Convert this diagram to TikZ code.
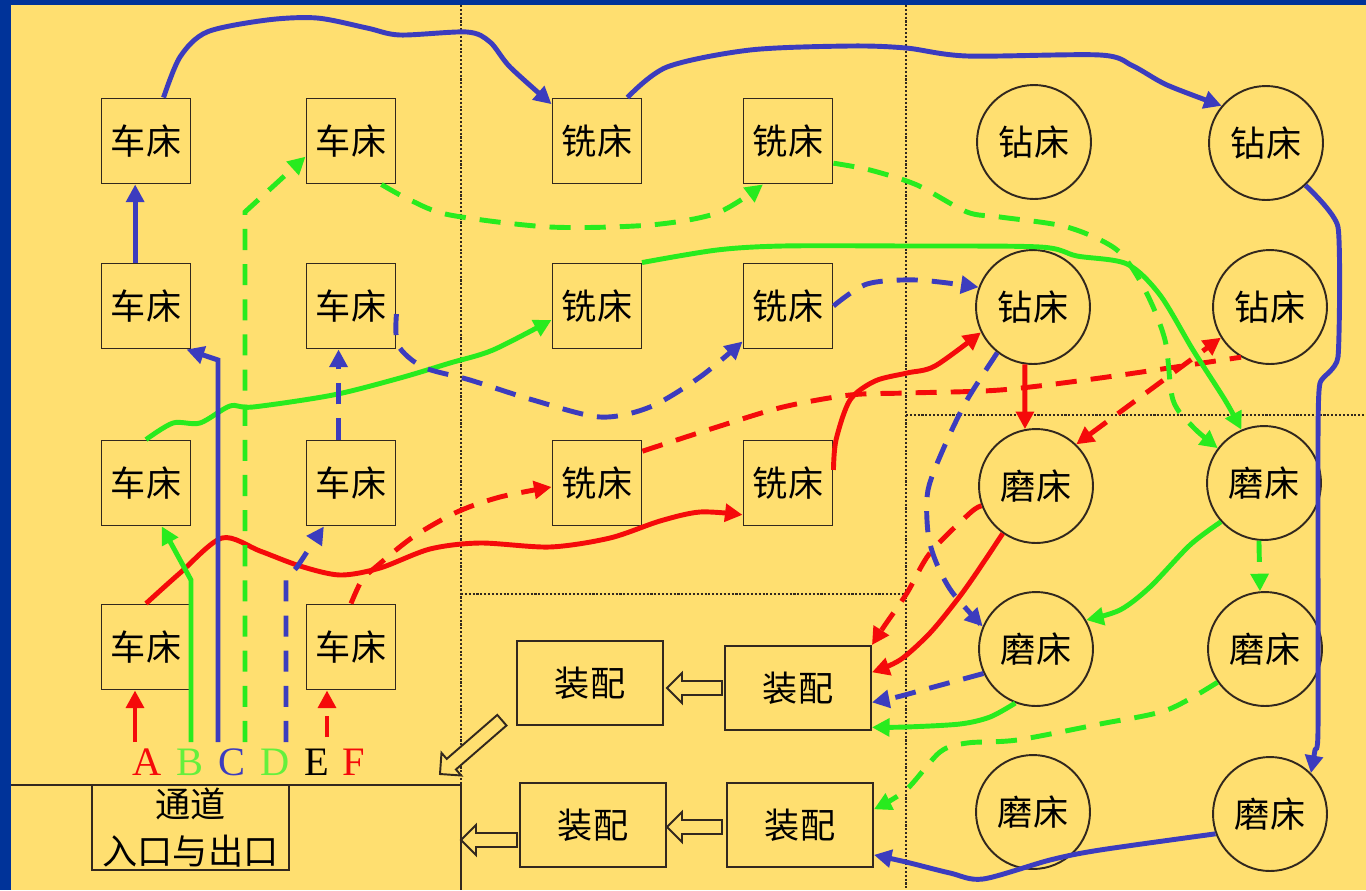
\documentclass[tikz,border=0pt]{standalone}
\usepackage{fontspec}
\setmainfont{Liberation Serif}
\newfontfamily\cjk{Noto Sans CJK SC}
\usetikzlibrary{arrows.meta}
\definecolor{bgyellow}{RGB}{255,223,112}
\definecolor{frameblue}{RGB}{0,51,153}
\definecolor{flowred}{RGB}{245,10,10}
\definecolor{flowgreen}{RGB}{40,235,30}
\definecolor{flowblue}{RGB}{60,60,190}
\definecolor{labelgreen}{RGB}{100,240,60}
\definecolor{edgedark}{RGB}{50,40,30}

\tikzset{
  machbox/.style={draw=edgedark, line width=1.1pt, minimum width=1.78cm, minimum height=1.70cm, inner sep=0pt, font=\cjk\fontsize{20}{24}\selectfont},
  machcirc/.style={machbox, circle, minimum size=2.28cm},
  asmbox/.style={machbox, minimum width=2.92cm, minimum height=1.68cm},
  flow/.style={line width=2.8pt, -{Triangle[length=10pt,width=10pt]}},
  flowdash/.style={flow, dash pattern=on 12pt off 8pt},
  zone/.style={draw=edgedark, densely dotted, line width=1.2pt},
  letter/.style={font=\fontsize{23}{26}\selectfont, anchor=base}
}

\newcommand{\hollowarrow}[4]{% pointe x, pointe y, angle, longueur
  \draw[draw=edgedark, line width=1.1pt, fill=bgyellow, shift={(#1,#2)}, rotate=#3]
    (0,0) -- (-15,15) -- (-15,7) -- (-#4,7) -- (-#4,-7) -- (-15,-7) -- (-15,-15) -- cycle;}

\begin{document}
\begin{tikzpicture}[x=0.02cm, y=-0.02cm]
    \useasboundingbox (0,0) rectangle (1366,890);
    % Fond
    \fill[frameblue] (0,0) rectangle (1366,890);
    \fill[bgyellow] (11,5) rectangle (1366,890);

    % Zones
    \draw[zone] (461,5) -- (461,785);
    \draw[zone] (906,5) -- (906,890);
    \draw[zone] (461,594) -- (906,594);
    \draw[zone] (906,415) -- (1366,415);
    \draw[edgedark, line width=1.1pt] (11,785) -- (461,785) -- (461,890);

    % Tours
    \node[machbox] (l11) at (146,141) {车床};
    \node[machbox] (l12) at (351,141) {车床};
    \node[machbox] (l21) at (146,306) {车床};
    \node[machbox] (l22) at (351,306) {车床};
    \node[machbox] (l31) at (146,483) {车床};
    \node[machbox] (l32) at (351,483) {车床};
    \node[machbox] (l41) at (146,647) {车床};
    \node[machbox] (l42) at (351,647) {车床};

    % Fraiseuses
    \node[machbox] (m11) at (597,141) {铣床};
    \node[machbox] (m12) at (788,141) {铣床};
    \node[machbox] (m21) at (597,306) {铣床};
    \node[machbox] (m22) at (788,306) {铣床};
    \node[machbox] (m31) at (597,483) {铣床};
    \node[machbox] (m32) at (788,483) {铣床};

    % Perceuses et rectifieuses
    \node[machcirc] (d11) at (1034,142) {钻床};
    \node[machcirc] (d12) at (1266,143) {钻床};
    \node[machcirc] (d21) at (1033,307) {钻床};
    \node[machcirc] (d22) at (1270,307) {钻床};
    \node[machcirc] (g11) at (1036,486) {磨床};
    \node[machcirc] (g12) at (1264,483) {磨床};
    \node[machcirc] (g21) at (1036,649) {磨床};
    \node[machcirc] (g22) at (1265,649) {磨床};
    \node[machcirc] (g31) at (1033,812) {磨床};
    \node[machcirc] (g32) at (1270,814) {磨床};

    % Montage
    \node[asmbox] (a11) at (590,683) {装配};
    \node[asmbox] (a12) at (798,688) {装配};
    \node[asmbox] (a21) at (593,825) {装配};
    \node[asmbox] (a22) at (800,825) {装配};
    \hollowarrow{667}{688}{180}{55}
    \hollowarrow{667}{827}{180}{55}
    \hollowarrow{461}{840}{180}{56}
    \hollowarrow{440}{774}{221}{82}

    % Entree
    \node[machbox, minimum width=3.94cm, align=center, font=\cjk\fontsize{20}{27}\selectfont] (entry) at (190.5,827.5) {通道\\入口与出口};
    \node[letter, text=flowred] (lblA) at (147,775) {A};
    \node[letter, text=labelgreen] (lblB) at (190,775) {B};
    \node[letter, text=flowblue] (lblC) at (232,775) {C};
    \node[letter, text=labelgreen] (lblD) at (275,775) {D};
    \node[letter, text=black] (lblE) at (317,775) {E};
    \node[letter, text=flowred] (lblF) at (354,775) {F};
    \coordinate (sA) at (135,742);
    \coordinate (sB) at (191,742);
    \coordinate (sC) at (218,742);
    \coordinate (sD) at (245,742);
    \coordinate (sE) at (286,742);
    \coordinate (sF) at (327,737);

    % Gamme A
    \draw[flow, flowred] (sA) -- (sA |- l41.south);
    \draw[flow, flowred] plot[smooth] coordinates {(l41.north) (180,573) (222,538) (260,551) (300,566) (340,575) (380,568) (430,549) (480,543) (550,547) (610,538) (660,521) (700,512) (m32.215)};
    \draw[flow, flowred] plot[smooth] coordinates {(m32.16) (836,440) (850,400) (875,381) (907,373) (935,366) (d21.206)};
    \draw[flow, flowred] (d21.262) -- (g11.101);
    \draw[flow, flowred] plot[smooth] coordinates {(g11.235) (975,575) (957,600) (930,633) (900,660) (a12.12)};

    % Gamme F
    \draw[flowdash, flowred] (sF) -- (sF |- l42.south);
    \draw[flowdash, flowred] plot[smooth] coordinates {(l42.north) (362,580) (377,566) (413,537) (457,512) (500,497) (m31.185)};
    \draw[flowdash, flowred, -] plot[smooth] coordinates {(m31.35) (717,427) (783,407) (850,395) (906,393) (1000,390) (1100,378) (d22.240)};
    \draw[flowdash, flowred, {Triangle[length=10pt,width=10pt]}-{Triangle[length=10pt,width=10pt]}] (g11.46) -- (d22.212);
    \draw[flowdash, flowred] plot[smooth] coordinates {(g11.200) (970,513) (930,553) (907,593) (885,625) (a12.north east)};

    % Gamme B
    \draw[flow, flowgreen] (sB) -- (191,580) -- (l31.-70);
    \draw[flow, flowgreen] plot[smooth] coordinates {(l31.north) (173,423) (200,423) (230,406) (253,407) (333,395) (400,378) (450,363) (493,350) (m21.197)};
    \draw[flow, flowgreen] plot[smooth] coordinates {(m21.44) (717,250) (783,246) (906,246) (1040,247) (1077,256) (1127,264) (1160,295) (1193,350) (1225,400) (g12.113)};
    \draw[flow, flowgreen] plot[smooth] coordinates {(g12.222) (1190,545) (1150,587) (1120,610) (g21.30)};
    \draw[flow, flowgreen] plot[smooth] coordinates {(g21.249) (990,717) (960,724) (906,727) (a12.-28)};

    % Gamme D
    \draw[flowdash, flowgreen] (sD) -- (245,212) -- (l12.199);
    \draw[flowdash, flowgreen] plot[smooth] coordinates {(l12.-55) (410,200) (450,215) (550,227) (650,225) (717,213) (m12.240)};
    \draw[flowdash, flowgreen] plot[smooth] coordinates {(m12.-26) (870,170) (917,185) (967,212) (1000,217) (1067,227) (1117,250) (1145,290) (1165,340) (1173,400) (1193,427) (g12.143)};
    \draw[flowdash, flowgreen] (g12.265) -- (g22.95);
    \draw[flowdash, flowgreen] plot[smooth] coordinates {(g22.215) (1167,710) (1100,724) (1017,740) (967,743) (940,752) (906,790) (a22.12)};

    % Gamme C
    \draw[flow, flowblue] (sC) -- (218,360) -- (l21.-47);
    \draw[flow, flowblue] (l21.104) -- (l11.256);
    \draw[flow, flowblue] plot[smooth] coordinates {(l11.68) (180,57) (207,32) (267,20) (317,18) (367,28) (400,35) (467,32) (490,42) (510,67) (m11.141)};
    \draw[flow, flowblue] plot[smooth] coordinates {(m11.55) (667,67) (750,50) (850,46) (906,48) (967,56) (1100,55) (1133,66) (1167,85) (d12.140)};
    \draw[flow, flowblue] plot[smooth, tension=0.3] coordinates {(d12.-47) (1338,227) (1338,357) (1320,383) (1318,440) (1318,730) (1315,750) (g32.45)};
    \draw[flow, flowblue] plot[smooth] coordinates {(g32.200) (1100,850) (1050,860) (983,879) (950,873) (906,862) (a22.-22)};

    % Gamme E
    \draw[flowdash, flowblue] (sE) -- (286,580) -- (297,567) -- (l32.238);
    \draw[flowdash, flowblue] (l32.106) -- (l22.254);
    \draw[flowdash, flowblue] plot[smooth] coordinates {(l22.-10) (398,345) (423,367) (470,380) (533,400) (600,417) (650,407) (700,377) (m22.218)};
    \draw[flowdash, flowblue] plot[smooth] coordinates {(m22.east) (867,284) (917,280) (d21.160)};
    \draw[flowdash, flowblue] plot[smooth] coordinates {(d21.232) (967,400) (945,445) (928,490) (928,533) (936,562) (952,592) (g21.157)};
    \draw[flowdash, flowblue] plot[smooth] coordinates {(g21.205) (930,688) (897,697) (a12.-11)};
\end{tikzpicture}
\end{document}
